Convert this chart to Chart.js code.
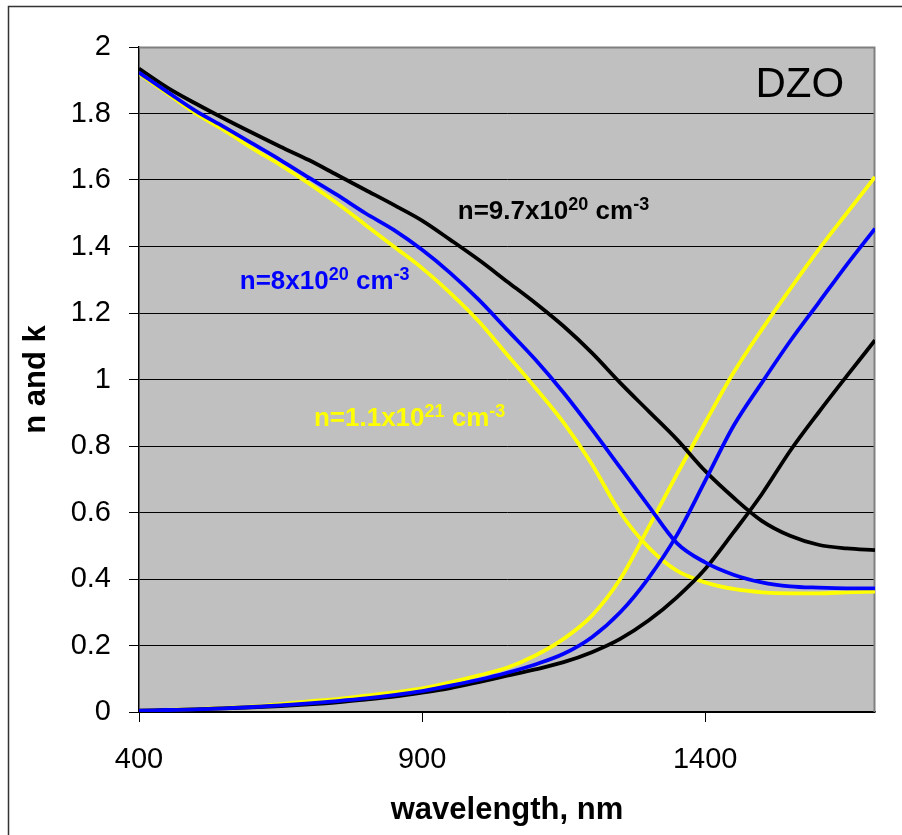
<!DOCTYPE html>
<html>
<head>
<meta charset="utf-8">
<script src="https://cdn.jsdelivr.net/npm/chart.js@4/dist/chart.umd.min.js"></script>
<style>
  html, body { margin: 0; padding: 0; background: #ffffff; }
  #wrap { width: 902px; height: 835px; }
</style>
</head>
<body>
<div id="wrap"><canvas id="chart" width="902" height="835"></canvas></div>
<script>
// Wavelength grid, nm
const wavelength = [400, 450, 500, 550, 600, 650, 700, 750, 800, 850, 900, 950, 1000,
  1050, 1100, 1150, 1200, 1250, 1300, 1350, 1400, 1450, 1500, 1550, 1600, 1650, 1700];

// n = 8x10^20 cm^-3
const n8e20 = [1.923, 1.865, 1.808, 1.76, 1.71, 1.66, 1.607, 1.555, 1.50, 1.45, 1.39, 1.32, 1.24,
  1.15, 1.06, 0.96, 0.85, 0.735, 0.62, 0.508, 0.45, 0.413, 0.39, 0.378, 0.374, 0.372, 0.372];
const k8e20 = [0.004, 0.006, 0.008, 0.011, 0.015, 0.02, 0.026, 0.033, 0.041, 0.051, 0.063, 0.079, 0.097,
  0.118, 0.143, 0.175, 0.225, 0.30, 0.403, 0.532, 0.695, 0.86, 0.99, 1.115, 1.23, 1.345, 1.454];

// n = 9.7x10^20 cm^-3
const n97e20 = [1.935, 1.878, 1.83, 1.785, 1.742, 1.70, 1.66, 1.615, 1.57, 1.525, 1.478, 1.42, 1.36,
  1.295, 1.23, 1.16, 1.08, 0.99, 0.905, 0.82, 0.725, 0.645, 0.575, 0.53, 0.503, 0.492, 0.487];
const k97e20 = [0.004, 0.006, 0.008, 0.011, 0.014, 0.018, 0.023, 0.029, 0.037, 0.046, 0.058, 0.072, 0.09,
  0.109, 0.128, 0.15, 0.18, 0.22, 0.275, 0.345, 0.43, 0.54, 0.655, 0.785, 0.90, 1.01, 1.118];

// n = 1.1x10^21 cm^-3
const n11e21 = [1.92, 1.86, 1.80, 1.75, 1.695, 1.645, 1.59, 1.53, 1.465, 1.40, 1.335, 1.26, 1.175,
  1.075, 0.975, 0.87, 0.745, 0.60, 0.495, 0.425, 0.39, 0.37, 0.36, 0.357, 0.357, 0.36, 0.362];
const k11e21 = [0.004, 0.006, 0.009, 0.012, 0.017, 0.024, 0.032, 0.039, 0.049, 0.059, 0.071, 0.089, 0.11,
  0.133, 0.17, 0.22, 0.29, 0.40, 0.555, 0.715, 0.87, 1.02, 1.15, 1.272, 1.39, 1.50, 1.609];

const xTicks = [400, 900, 1400];
const yTicks = [0, 0.2, 0.4, 0.6, 0.8, 1, 1.2, 1.4, 1.6, 1.8, 2];

const FONT = "'Liberation Sans', Arial, Helvetica, sans-serif";
const BLACK = '#000000', BLUE = '#0000ff', YELLOW = '#ffff00';

const pts = arr => wavelength.map((w, i) => ({ x: w, y: arr[i] }));
const curve = (label, arr, color) => ({
  label, data: pts(arr), borderColor: color, backgroundColor: color,
  borderWidth: 3.8, pointRadius: 0, fill: false, cubicInterpolationMode: 'monotone'
});

// In-plot text labels, placed in data coordinates
const notes = [
  { x: 1489, y: 1.849, parts: [['DZO', 0]], color: BLACK, bold: false, size: 42 },
  { x: 963, y: 1.484, parts: [['n=9.7x10', 0], ['20', 1], [' cm', 0], ['-3', 1]], color: BLACK, bold: true, size: 26 },
  { x: 578, y: 1.271, parts: [['n=8x10', 0], ['20', 1], [' cm', 0], ['-3', 1]], color: BLUE, bold: true, size: 26 },
  { x: 709, y: 0.86, parts: [['n=1.1x10', 0], ['21', 1], [' cm', 0], ['-3', 1]], color: YELLOW, bold: true, size: 26 }
];

const decor = {
  id: 'decor',
  beforeDraw(chart) {
    const { ctx, chartArea: a } = chart;
    ctx.save();
    ctx.fillStyle = '#ffffff';
    ctx.fillRect(0, 0, chart.width, chart.height);
    // outer frame
    ctx.strokeStyle = '#333333';
    ctx.lineWidth = 1.5;
    ctx.beginPath();
    ctx.moveTo(8.5, chart.height + 5);
    ctx.lineTo(8.5, 6.5);
    ctx.lineTo(chart.width + 5, 6.5);
    ctx.stroke();
    // plot background
    ctx.fillStyle = '#c0c0c0';
    ctx.fillRect(a.left, a.top, a.right - a.left, a.bottom - a.top);
    ctx.restore();
  },
  beforeDatasetsDraw(chart) {
    const { ctx, chartArea: a } = chart;
    ctx.save();
    ctx.strokeStyle = '#808080';
    ctx.lineWidth = 2;
    ctx.beginPath();
    ctx.moveTo(a.left, a.top + 0.5);
    ctx.lineTo(a.right - 0.5, a.top + 0.5);
    ctx.lineTo(a.right - 0.5, a.bottom);
    ctx.stroke();
    ctx.restore();
  },
  afterDatasetsDraw(chart) {
    const { ctx, scales } = chart;
    ctx.save();
    ctx.textBaseline = 'alphabetic';
    ctx.textAlign = 'left';
    for (const n of notes) {
      let x = scales.x.getPixelForValue(n.x);
      const y = scales.y.getPixelForValue(n.y);
      ctx.fillStyle = n.color;
      for (const [t, sup] of n.parts) {
        const fs = sup ? 18 : n.size;
        ctx.font = (n.bold ? 'bold ' : '') + fs + 'px ' + FONT;
        ctx.fillText(t, x, sup ? y - 9 : y);
        x += ctx.measureText(t).width;
      }
    }
    ctx.restore();
  }
};

new Chart(document.getElementById('chart'), {
  type: 'line',
  data: {
    datasets: [
      curve('n, 8x10^20', n8e20, BLUE),
      curve('k, 8x10^20', k8e20, BLUE),
      curve('n, 9.7x10^20', n97e20, BLACK),
      curve('k, 9.7x10^20', k97e20, BLACK),
      curve('n, 1.1x10^21', n11e21, YELLOW),
      curve('k, 1.1x10^21', k11e21, YELLOW)
    ]
  },
  options: {
    responsive: false,
    devicePixelRatio: 1,
    animation: false,
    layout: { padding: { left: 0, right: 27, top: 47, bottom: 0 } },
    plugins: { legend: { display: false }, tooltip: { enabled: false } },
    scales: {
      x: {
        type: 'linear', min: 400, max: 1700,
        afterBuildTicks: s => { s.ticks = xTicks.map(v => ({ value: v })); },
        afterFit: s => { s.height = 123; },
        grid: { drawOnChartArea: false, drawTicks: true, tickLength: 10, color: '#000000', lineWidth: 1 },
        border: { display: true, color: '#000000', width: 1.5 },
        ticks: { color: '#000000', font: { family: FONT, size: 29 }, padding: 21, maxRotation: 0,
          callback: v => String(v) },
        title: { display: true, text: 'wavelength, nm', color: '#000000',
          font: { family: FONT, size: 31, weight: 'bold' }, padding: { top: 0, bottom: 6 } }
      },
      y: {
        type: 'linear', min: 0, max: 2,
        afterBuildTicks: s => { s.ticks = yTicks.map(v => ({ value: v })); },
        afterFit: s => { s.width = 139; },
        grid: { drawOnChartArea: true, drawTicks: true, tickLength: 10, color: '#000000', lineWidth: 1 },
        border: { display: true, color: '#000000', width: 1.5 },
        ticks: { color: '#000000', font: { family: FONT, size: 29 }, padding: 18,
          callback: v => String(Math.round(v * 10) / 10) },
        title: { display: true, text: 'n and k', color: '#000000',
          font: { family: FONT, size: 31, weight: 'bold' }, padding: { top: 18, bottom: 0 } }
      }
    }
  },
  plugins: [decor]
});
</script>
</body>
</html>
